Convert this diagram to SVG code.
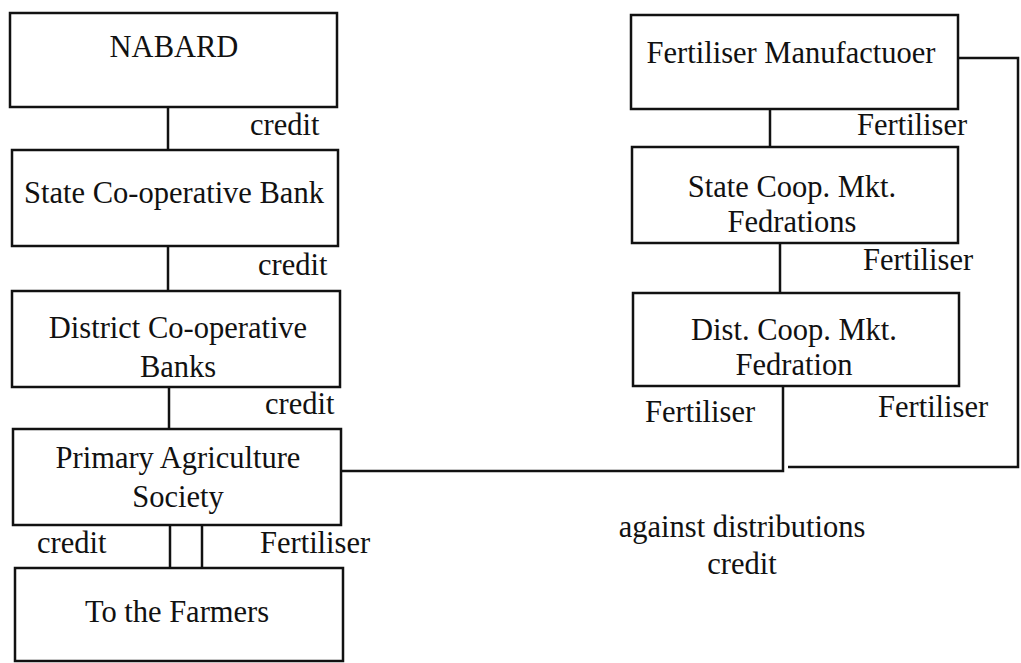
<svg xmlns="http://www.w3.org/2000/svg" width="1021" height="663" viewBox="0 0 1021 663">
<style>
.box{fill:#fff;stroke:#111;stroke-width:2.5}
.ln{fill:none;stroke:#111;stroke-width:2.5}
text{font-family:"Liberation Serif","Times New Roman",serif;font-size:30.5px;fill:#111}
.c{text-anchor:middle}
</style>
<rect width="1021" height="663" fill="#fff"/>
<g id="connectors">
<line class="ln" x1="168" y1="107" x2="168" y2="150"/>
<line class="ln" x1="168" y1="246" x2="168" y2="291"/>
<line class="ln" x1="169" y1="387" x2="169" y2="429"/>
<line class="ln" x1="170" y1="525" x2="170" y2="568"/>
<line class="ln" x1="202" y1="525" x2="202" y2="568"/>
<line class="ln" x1="770" y1="109" x2="770" y2="147"/>
<line class="ln" x1="780" y1="243" x2="780" y2="293"/>
<polyline class="ln" points="783,386 783,471 341,471"/>
<polyline class="ln" points="958,58 1018,58 1018,467 788,467"/>
<text x="250" y="135">credit</text>
<text x="258" y="275">credit</text>
<text x="265" y="414">credit</text>
<text x="37" y="553">credit</text>
<text x="260" y="553">Fertiliser</text>
<text x="857" y="135">Fertiliser</text>
<text x="863" y="270">Fertiliser</text>
<text x="645" y="422">Fertiliser</text>
<text x="878" y="417">Fertiliser</text>
<text class="c" x="742" y="537">against distributions</text>
<text class="c" x="742" y="574">credit</text>
</g>
<g id="nabard">
<rect class="box" x="10" y="13" width="327" height="94"/>
<text class="c" x="174" y="57">NABARD</text>
</g>
<g id="state-bank">
<rect class="box" x="12" y="150" width="326" height="96"/>
<text class="c" x="174" y="203">State Co-operative Bank</text>
</g>
<g id="district-banks">
<rect class="box" x="12" y="291" width="328" height="96"/>
<text class="c" x="178" y="338">District Co-operative</text>
<text class="c" x="178" y="377">Banks</text>
</g>
<g id="primary-society">
<rect class="box" x="13" y="429" width="328" height="96"/>
<text class="c" x="178" y="468">Primary Agriculture</text>
<text class="c" x="178" y="507">Society</text>
</g>
<g id="farmers">
<rect class="box" x="15" y="568" width="328" height="93"/>
<text class="c" x="177" y="622">To the Farmers</text>
</g>
<g id="fert-manufacturer">
<rect class="box" x="631" y="15" width="327" height="94"/>
<text class="c" x="791" y="63">Fertiliser Manufactuoer</text>
</g>
<g id="state-coop">
<rect class="box" x="632" y="147" width="326" height="96"/>
<text class="c" x="792" y="197">State Coop. Mkt.</text>
<text class="c" x="792" y="232">Fedrations</text>
</g>
<g id="dist-coop">
<rect class="box" x="633" y="293" width="326" height="93"/>
<text class="c" x="794" y="340">Dist. Coop. Mkt.</text>
<text class="c" x="794" y="375">Fedration</text>
</g>
</svg>
